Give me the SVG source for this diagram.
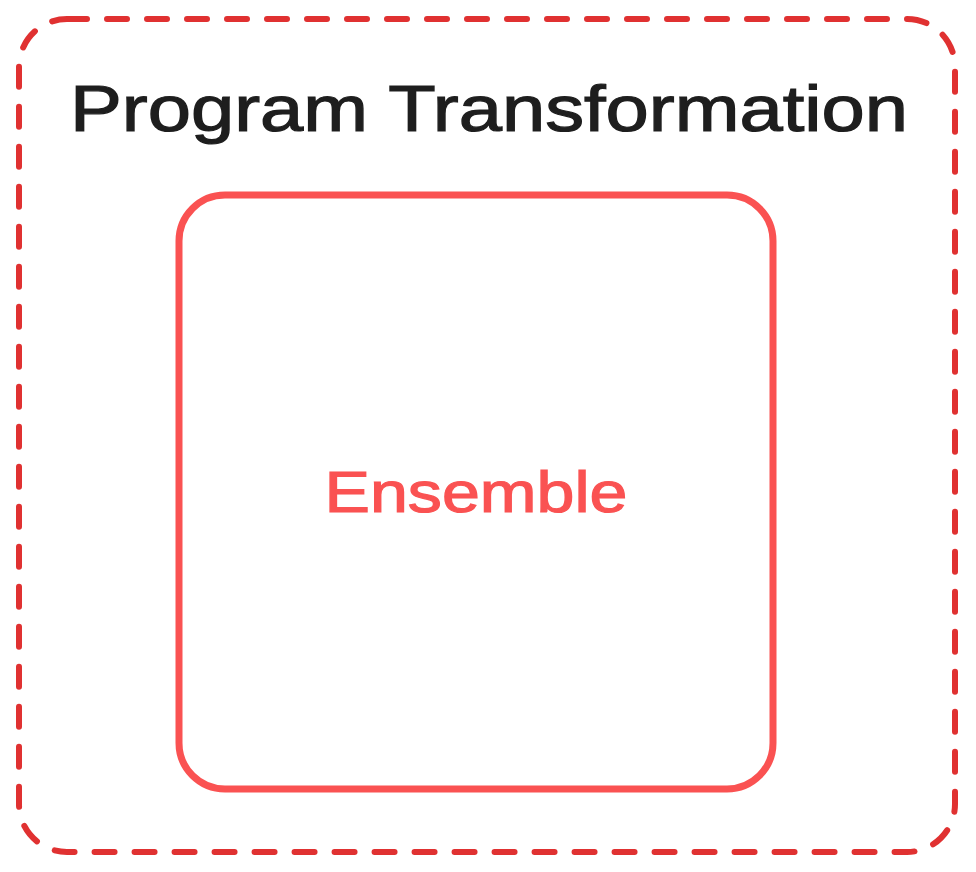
<svg xmlns="http://www.w3.org/2000/svg" width="976" height="872" viewBox="0 0 976 872">
<style>
.t{font-family:"Liberation Sans","DejaVu Sans",sans-serif;}
</style>
<rect width="976" height="872" fill="#ffffff"/>
<g id="program-transformation">
<rect x="19" y="19" width="936" height="833" rx="48" fill="none" stroke="#e03131" stroke-width="6" stroke-linecap="round" stroke-dasharray="20 20"/>
<text class="t" x="489" y="131" text-anchor="middle" font-size="64" fill="#1e1e1e" stroke="#1e1e1e" stroke-width="1.2" textLength="838" lengthAdjust="spacingAndGlyphs">Program Transformation</text>
</g>
<g id="ensemble">
<rect x="179" y="195" width="594" height="594" rx="46" fill="none" stroke="#fa5252" stroke-width="7"/>
<text class="t" x="476" y="512" text-anchor="middle" font-size="58" fill="#fa5252" stroke="#fa5252" stroke-width="1.2" textLength="303" lengthAdjust="spacingAndGlyphs">Ensemble</text>
</g>
<g id="connectors"></g>
</svg>
